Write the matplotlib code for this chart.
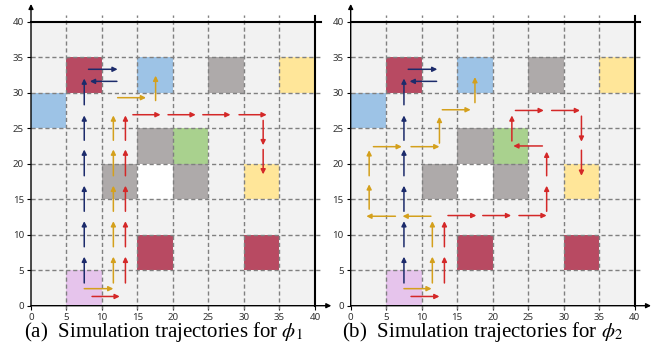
import matplotlib.pyplot as plt
from matplotlib.patches import Rectangle

plt.rcParams['mathtext.fontset'] = 'stix'

# grid cells (column, row) of 5x5 blocks, by colour
cells = {
    '#b84a62': [(5, 30), (15, 5), (30, 5)],
    '#9dc3e6': [(15, 30), (0, 25)],
    '#aeaaaa': [(25, 30), (15, 20), (10, 15), (20, 15)],
    '#a9d18e': [(20, 20)],
    '#ffe699': [(35, 30), (30, 15)],
    '#e6c4ec': [(5, 0)],
    'white': [(15, 15)],
}

ticks = list(range(0, 41, 5))

# trajectory segments (x0, y0, x1, y1)
navy_traj = [(7.5, 3.2, 7.5, 6.9), (7.5, 8.3, 7.5, 11.9), (7.5, 13.3, 7.5, 16.9),
             (7.5, 18.3, 7.5, 22.0), (7.5, 23.3, 7.5, 26.8), (7.5, 28.3, 7.5, 32.0),
             (8.1, 33.3, 12.2, 33.3), (12.1, 31.6, 8.3, 31.6)]

gold_phi1 = [(7.5, 2.4, 11.6, 2.4), (11.6, 3.2, 11.6, 6.9), (11.6, 8.3, 11.6, 11.9),
             (11.6, 13.3, 11.6, 16.9), (11.6, 18.3, 11.6, 22.0), (11.6, 23.3, 11.6, 26.8),
             (12.2, 29.3, 16.2, 29.3), (17.55, 28.9, 17.55, 32.4)]
red_phi1 = [(8.6, 1.3, 12.5, 1.3), (13.3, 3.2, 13.3, 6.9), (13.3, 8.3, 13.3, 11.9),
            (13.3, 13.3, 13.3, 16.9), (13.3, 18.3, 13.3, 22.0), (13.3, 23.3, 13.3, 26.8),
            (14.35, 26.9, 18.25, 26.9), (19.3, 26.9, 23.2, 26.9), (24.2, 26.9, 28.1, 26.9),
            (29.3, 26.9, 33.2, 26.9), (32.7, 26.1, 32.7, 22.6), (32.7, 22.0, 32.7, 18.5)]

gold_phi2 = [(7.5, 2.4, 11.4, 2.4), (11.5, 3.2, 11.5, 6.9), (11.5, 8.3, 11.5, 11.9),
             (11.3, 12.6, 7.3, 12.6), (6.3, 12.6, 2.2, 12.6), (2.6, 13.6, 2.6, 17.1),
             (2.6, 18.3, 2.6, 21.9), (3.2, 22.4, 7.2, 22.4), (8.5, 22.4, 12.5, 22.4),
             (12.5, 22.9, 12.5, 26.6), (12.9, 27.6, 16.9, 27.6), (17.5, 28.6, 17.5, 32.2)]
red_phi2 = [(8.5, 1.3, 12.5, 1.3), (13.2, 3.2, 13.2, 6.9), (13.2, 8.3, 13.2, 11.9),
            (13.7, 12.7, 17.7, 12.7), (18.6, 12.7, 22.6, 12.7), (23.7, 12.7, 27.6, 12.7),
            (27.6, 13.3, 27.6, 16.9), (27.6, 18.3, 27.6, 21.7), (27.0, 22.5, 22.9, 22.5),
            (22.7, 23.2, 22.7, 26.8), (23.2, 27.5, 27.2, 27.5), (28.3, 27.5, 32.3, 27.5),
            (32.5, 26.7, 32.5, 23.1), (32.5, 21.9, 32.5, 18.3)]

panels = [
    ('(a)  Simulation trajectories for $\\phi_1$', navy_traj, gold_phi1, red_phi1),
    ('(b)  Simulation trajectories for $\\phi_2$', navy_traj, gold_phi2, red_phi2),
]
colours = ['#1c2b6b', '#d4a01c', '#d42828']

fig = plt.figure(figsize=(6.66, 3.51), dpi=100)
lefts = [27.45 / 666, 347.15 / 666]

for left, (caption, *trajs) in zip(lefts, panels):
    ax = fig.add_axes([left, 0.1149, 306.0 / 666, 0.8758])
    ax.set_xlim(-0.5, 42.6)
    ax.set_ylim(-0.7, 42.6)

    ax.add_patch(Rectangle((0, 0), 40, 40, facecolor='#f2f2f2', edgecolor='none', zorder=0))
    for c, lst in cells.items():
        for (cx, cy) in lst:
            ax.add_patch(Rectangle((cx, cy), 5, 5, facecolor=c, edgecolor='none', zorder=1))

    for v in ticks[1:-1]:
        ax.plot([v, v], [-0.4, 41], color='#808080', lw=1, dashes=(3, 2), zorder=2)
        ax.plot([0, 41], [v, v], color='#808080', lw=1, dashes=(3, 2), zorder=2)
    ax.plot([0, 40.8], [40, 40], color='k', lw=1.5, zorder=3)
    ax.plot([40, 40], [0, 40.8], color='k', lw=1.5, zorder=3)

    # axes with arrow heads
    ax.annotate('', xy=(42.3, 0), xytext=(0, 0),
                arrowprops=dict(arrowstyle='-|>', color='k', lw=1, mutation_scale=7,
                                shrinkA=0, shrinkB=0), zorder=4)
    ax.annotate('', xy=(0, 42.5), xytext=(0, 0),
                arrowprops=dict(arrowstyle='-|>', color='k', lw=1, mutation_scale=7,
                                shrinkA=0, shrinkB=0), zorder=4)

    for col, segs in zip(colours, trajs):
        for (x0, y0, x1, y1) in segs:
            ax.annotate('', xy=(x1, y1), xytext=(x0, y0),
                        arrowprops=dict(arrowstyle='-|>', color=col, lw=1.1,
                                        mutation_scale=7, shrinkA=0, shrinkB=0),
                        zorder=5)

    for s in ['top', 'right']:
        ax.spines[s].set_visible(False)
    for s in ['left', 'bottom']:
        ax.spines[s].set_position(('data', 0))
        ax.spines[s].set_color('none')
    ax.set_xticks(ticks)
    ax.set_yticks(ticks)
    ax.tick_params(length=3, width=0.8, color='k', pad=2, labelsize=7, labelcolor='#333333')
    for lab in ax.get_xticklabels() + ax.get_yticklabels():
        lab.set_fontfamily('Noto Sans')

    fig.text((left * 666 + 3.55 + 18.6 * 7.1) / 666, (351 - 337.5) / 351, caption,
             ha='center', va='baseline', fontsize=15, family='Liberation Serif')

fig.savefig('out.png', dpi=100)
